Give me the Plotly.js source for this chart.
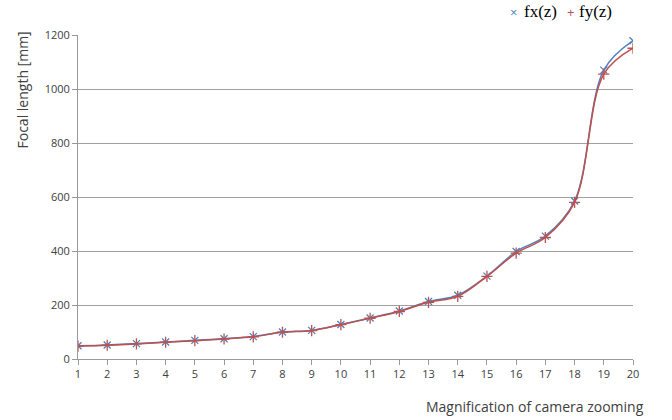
<!DOCTYPE html>
<html>
<head>
<meta charset="utf-8">
<script src="https://cdn.plot.ly/plotly-3.0.1.min.js"></script>
<style>html,body{margin:0;padding:0;background:#fff;}#chart{width:672px;height:420px;}</style>
</head>
<body>
<div id="chart"></div>
<script>
const zoomLevels = [1,2,3,4,5,6,7,8,9,10,11,12,13,14,15,16,17,18,19,20];
const fx = [49,52,57,63,69,75,83,100,106,128,152,178,213,236,307,398,455,585,1070,1179];
const fy = [48,51,56,62,68,74,82,99,105,127,151,176,210,232,306,392,450,580,1055,1151];
const yTicks = [0,200,400,600,800,1000,1200];
const seriesNames = ['fx(z)', 'fy(z)'];
const seriesColors = ['#4F81BD', '#C0504D'];

const traces = [
  {x: zoomLevels, y: fx, name: seriesNames[0], type: 'scatter', mode: 'lines+markers', showlegend: false,
   line: {color: seriesColors[0], width: 1.5, shape: 'spline', smoothing: 1},
   marker: {symbol: 'x-thin', size: 7, line: {color: seriesColors[0], width: 1.3}, color: seriesColors[0]}},
  {x: zoomLevels, y: fy, name: seriesNames[1], type: 'scatter', mode: 'lines+markers', showlegend: false,
   line: {color: seriesColors[1], width: 1.5, shape: 'spline', smoothing: 1},
   marker: {symbol: 'cross-thin', size: 8, line: {color: seriesColors[1], width: 1.3}, color: seriesColors[1]}}
];

// plot area: left 78px, width 555px, top 35px, height 324px
const px = p => (p - 78) / 555;
const py = p => (359 - p) / 324;
const serif = 'Liberation Serif, Times New Roman, serif';
const sans = 'Open Sans, Liberation Sans, sans-serif';

const layout = {
  width: 672, height: 420,
  margin: {l: 78, r: 39, t: 35, b: 61},
  paper_bgcolor: '#fff', plot_bgcolor: '#fff',
  showlegend: false,
  xaxis: {range: [1, 20], tickvals: zoomLevels, ticktext: zoomLevels.map(String),
          showgrid: false, zeroline: false, showline: true, linecolor: '#999', linewidth: 1,
          ticks: 'outside', ticklen: 5, tickcolor: '#999',
          tickfont: {family: sans, size: 11, color: '#404040'}},
  yaxis: {range: [0, 1200], tickvals: yTicks, ticktext: yTicks.map(String),
          showgrid: true, gridcolor: '#a0a0a0', gridwidth: 1, zeroline: false,
          showline: true, linecolor: '#999', linewidth: 1,
          ticks: 'outside', ticklen: 5, tickcolor: '#999',
          tickfont: {family: sans, size: 11, color: '#404040'}},
  annotations: [
    {text: 'Focal length [mm]', xref: 'paper', yref: 'paper', x: px(22), y: py(30), xanchor: 'center', yanchor: 'top',
     textangle: -90, showarrow: false, font: {family: sans, size: 14, color: '#404040'}},
    {text: 'Magnification of camera zooming', xref: 'paper', yref: 'paper', x: px(646), y: py(406), xanchor: 'right', yanchor: 'middle',
     showarrow: false, font: {family: sans, size: 14, color: '#404040'}},
    {text: '×', xref: 'paper', yref: 'paper', x: px(513), y: py(12), xanchor: 'center', yanchor: 'middle',
     showarrow: false, font: {family: sans, size: 13, color: seriesColors[0]}},
    {text: seriesNames[0], xref: 'paper', yref: 'paper', x: px(522), y: py(12), xanchor: 'left', yanchor: 'middle',
     showarrow: false, font: {family: serif, size: 17, color: '#000'}},
    {text: '+', xref: 'paper', yref: 'paper', x: px(570), y: py(12), xanchor: 'center', yanchor: 'middle',
     showarrow: false, font: {family: sans, size: 13, color: seriesColors[1]}},
    {text: seriesNames[1], xref: 'paper', yref: 'paper', x: px(577), y: py(12), xanchor: 'left', yanchor: 'middle',
     showarrow: false, font: {family: serif, size: 17, color: '#000'}}
  ]
};

Plotly.newPlot('chart', traces, layout, {displayModeBar: false, staticPlot: true});
</script>
</body>
</html>
